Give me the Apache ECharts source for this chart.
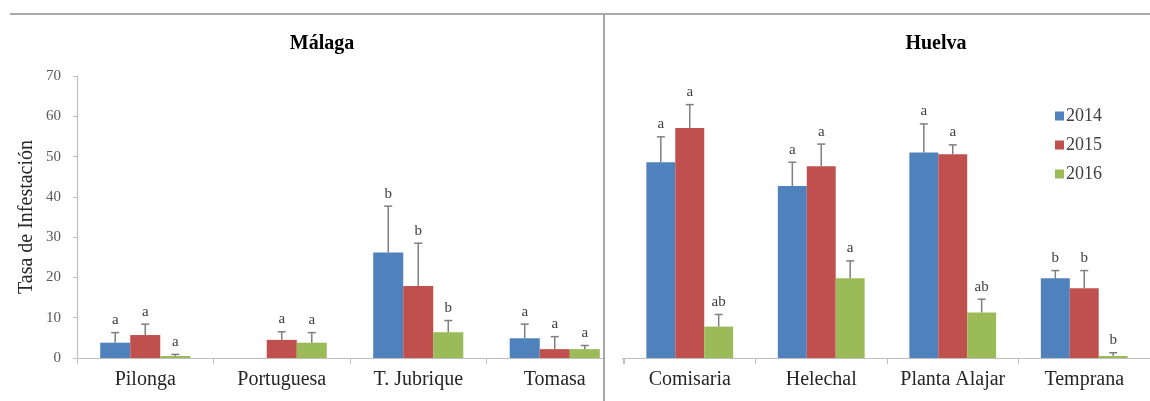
<!DOCTYPE html>
<html>
<head>
<meta charset="utf-8">
<script src="https://cdn.jsdelivr.net/npm/echarts@6/dist/echarts.min.js"></script>
<style>
  html, body { margin: 0; padding: 0; background: #fff; }
  #main { width: 1150px; height: 401px; }
</style>
</head>
<body>
<div id="main"></div>
<script>
// datos
var years = ['2014', '2015', '2016'];
var malagaSites = ['Pilonga', 'Portuguesa', 'T. Jubrique', 'Tomasa'];
var huelvaSites = ['Comisaria', 'Helechal', 'Planta Alajar', 'Temprana'];

var malaga2014 = [3.8, null, 26.2, 4.9];
var malaga2015 = [5.7, 4.5, 17.9, 2.2];
var malaga2016 = [0.5, 3.8, 6.4, 2.2];
var malagaErr2014 = [2.5, null, 11.5, 3.5];
var malagaErr2015 = [2.7, 2.0, 10.6, 3.1];
var malagaErr2016 = [0.4, 2.5, 2.9, 0.9];
var malagaLetters2014 = ['a', '', 'b', 'a'];
var malagaLetters2015 = ['a', 'a', 'b', 'a'];
var malagaLetters2016 = ['a', 'a', 'b', 'a'];

var huelva2014 = [48.6, 42.7, 51.0, 19.8];
var huelva2015 = [57.1, 47.6, 50.6, 17.3];
var huelva2016 = [7.8, 19.8, 11.3, 0.5];
var huelvaErr2014 = [6.3, 5.9, 7.1, 1.9];
var huelvaErr2015 = [5.8, 5.5, 2.3, 4.4];
var huelvaErr2016 = [3.0, 4.3, 3.3, 0.8];
var huelvaLetters2014 = ['a', 'a', 'a', 'b'];
var huelvaLetters2015 = ['a', 'a', 'a', 'b'];
var huelvaLetters2016 = ['ab', 'a', 'ab', 'b'];

var colors = ['#4F81BD', '#C0504D', '#9BBB59'];
var serif = '"Liberation Serif", "Times New Roman", serif';

// arma los puntos de las barras de error: [categoria, serie, media, error]
function buildErr(means, errs, letters) {
  var pts = [], txt = [];
  for (var k = 0; k < 3; k++) {
    for (var i = 0; i < means[k].length; i++) {
      if (means[k][i] == null) continue;
      pts.push([i, k, means[k][i], errs[k][i]]);
      txt.push(letters[k][i]);
    }
  }
  return { pts: pts, txt: txt };
}
var errMalaga = buildErr([malaga2014, malaga2015, malaga2016],
  [malagaErr2014, malagaErr2015, malagaErr2016],
  [malagaLetters2014, malagaLetters2015, malagaLetters2016]);
var errHuelva = buildErr([huelva2014, huelva2015, huelva2016],
  [huelvaErr2014, huelvaErr2015, huelvaErr2016],
  [huelvaLetters2014, huelvaLetters2015, huelvaLetters2016]);

function errRender(letters) {
  return function (params, api) {
    var cat = api.value(0), k = api.value(1), v = api.value(2), e = api.value(3);
    var band = api.size([1, 0])[0];
    var bw = band * 0.22;
    var x = api.coord([cat, 0])[0] + (k - 1) * bw;
    var yBar = api.coord([cat, v])[1];
    var yTop = api.coord([cat, v + e])[1];
    var st = { stroke: '#7f7f7f', lineWidth: 1.5 };
    return {
      type: 'group',
      children: [
        { type: 'line', shape: { x1: x, y1: yBar, x2: x, y2: yTop }, style: st },
        { type: 'line', shape: { x1: x - 4, y1: yTop, x2: x + 4, y2: yTop }, style: st },
        { type: 'text', style: {
            text: letters[params.dataIndex], x: x, y: yTop - 5,
            align: 'center', verticalAlign: 'bottom',
            font: '15px ' + serif, fill: '#404040'
        } }
      ]
    };
  };
}

var chart = echarts.init(document.getElementById('main'));

var catAxis = function (idx, sites) {
  return {
    type: 'category',
    gridIndex: idx,
    data: sites,
    axisLine: { lineStyle: { color: '#bfbfbf', width: 1.2 } },
    axisTick: { show: true, length: 6, lineStyle: { color: '#bfbfbf' } },
    axisLabel: { interval: 0, fontFamily: serif, fontSize: 20, color: '#262626', margin: 12 }
  };
};

var option = {
  animation: false,
  title: [
    { text: 'Málaga', left: 317, top: 29, textAlign: 'center',
      textStyle: { fontFamily: serif, fontSize: 20, fontWeight: 'bold', color: '#000' } },
    { text: 'Huelva', left: 931, top: 29, textAlign: 'center',
      textStyle: { fontFamily: serif, fontSize: 20, fontWeight: 'bold', color: '#000' } }
  ],
  legend: {
    data: years,
    orient: 'vertical',
    left: 1050,
    top: 102,
    itemWidth: 9,
    itemHeight: 9,
    itemGap: 11,
    icon: 'rect',
    textStyle: { fontFamily: serif, fontSize: 18, color: '#404040', padding: [0, 0, 0, -3] }
  },
  grid: [
    { left: 77, top: 76, width: 546, height: 282 },
    { left: 624, top: 76, width: 538, height: 282 }
  ],
  xAxis: [catAxis(0, malagaSites), catAxis(1, huelvaSites)],
  yAxis: [
    {
      type: 'value', gridIndex: 0, min: 0, max: 70, interval: 10,
      name: 'Tasa de Infestación', nameLocation: 'middle', nameGap: 40,
      nameTextStyle: { fontFamily: serif, fontSize: 20, color: '#262626' },
      axisLine: { show: true, lineStyle: { color: '#bfbfbf', width: 1.2 } },
      axisTick: { show: true, length: 4, lineStyle: { color: '#bfbfbf' } },
      axisLabel: { fontFamily: serif, fontSize: 15, color: '#595959', margin: 16 },
      splitLine: { show: false }
    },
    { type: 'value', gridIndex: 1, min: 0, max: 70, interval: 10, show: false, splitLine: { show: false } }
  ],
  series: [
    { name: '2014', type: 'bar', xAxisIndex: 0, yAxisIndex: 0, data: malaga2014, barWidth: '22%', barGap: '0%', itemStyle: { color: colors[0] } },
    { name: '2015', type: 'bar', xAxisIndex: 0, yAxisIndex: 0, data: malaga2015, barWidth: '22%', barGap: '0%', itemStyle: { color: colors[1] } },
    { name: '2016', type: 'bar', xAxisIndex: 0, yAxisIndex: 0, data: malaga2016, barWidth: '22%', barGap: '0%', itemStyle: { color: colors[2] } },
    { name: '2014', type: 'bar', xAxisIndex: 1, yAxisIndex: 1, data: huelva2014, barWidth: '22%', barGap: '0%', itemStyle: { color: colors[0] } },
    { name: '2015', type: 'bar', xAxisIndex: 1, yAxisIndex: 1, data: huelva2015, barWidth: '22%', barGap: '0%', itemStyle: { color: colors[1] } },
    { name: '2016', type: 'bar', xAxisIndex: 1, yAxisIndex: 1, data: huelva2016, barWidth: '22%', barGap: '0%', itemStyle: { color: colors[2] } },
    { type: 'custom', xAxisIndex: 0, yAxisIndex: 0, data: errMalaga.pts, renderItem: errRender(errMalaga.txt), z: 5 },
    { type: 'custom', xAxisIndex: 1, yAxisIndex: 1, data: errHuelva.pts, renderItem: errRender(errHuelva.txt), z: 5 }
  ],
  graphic: [
    // tapa el final del eje izquierdo, como en la figura recortada
    { type: 'rect', z: 100, shape: { x: 605, y: 340, width: 17, height: 40 }, style: { fill: '#fff' } },
    { type: 'line', z: 101, shape: { x1: 10, y1: 14, x2: 1150, y2: 14 }, style: { stroke: '#8c8c8c', lineWidth: 1.5 } },
    { type: 'line', z: 101, shape: { x1: 604, y1: 14, x2: 604, y2: 401 }, style: { stroke: '#a6a6a6', lineWidth: 2 } }
  ]
};
chart.setOption(option);
</script>
</body>
</html>
